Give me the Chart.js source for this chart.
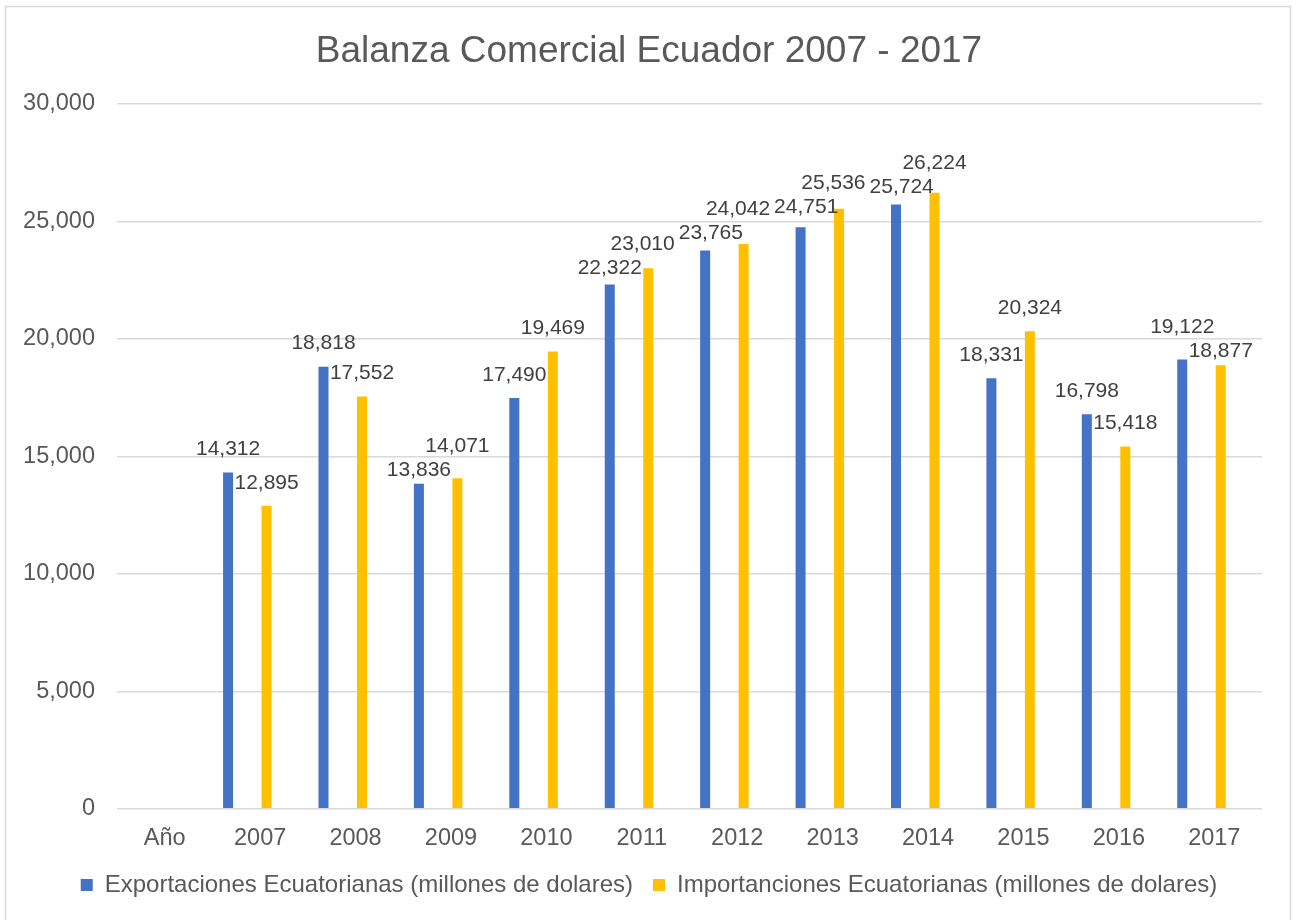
<!DOCTYPE html>
<html>
<head>
<meta charset="utf-8">
<script src="https://cdn.jsdelivr.net/npm/chart.js@4.4.1/dist/chart.umd.min.js"></script>
<style>
  body { margin: 0; background: #fff; }
  #caja { width: 1298px; height: 920px; }
</style>
</head>
<body>
<div id="caja"><canvas id="grafico"></canvas></div>
<script>
const categorias = ['Año', '2007', '2008', '2009', '2010', '2011', '2012', '2013', '2014', '2015', '2016', '2017'];
const exportaciones = [null, 14312, 18818, 13836, 17490, 22322, 23765, 24751, 25724, 18331, 16798, 19122];
const importaciones = [null, 12895, 17552, 14071, 19469, 23010, 24042, 25536, 26224, 20324, 15418, 18877];
const ticksY = [0, 5000, 10000, 15000, 20000, 25000, 30000];

const fuente = '"Liberation Sans", Arial, sans-serif';
const gris = '#595959';

// el recuadro gris alrededor del grafico
const marco = {
  id: 'marco',
  beforeDraw(chart) {
    const ctx = chart.ctx;
    ctx.save();
    ctx.strokeStyle = '#d9d9d9';
    ctx.lineWidth = 1.5;
    ctx.strokeRect(5.5, 6.5, 1285, 930);
    ctx.restore();
  }
};

// en el original las barras no van centradas en la categoria
const desplazar = {
  id: 'desplazar',
  afterDatasetsUpdate(chart, args, opts) {
    chart.data.datasets.forEach((ds, i) => {
      chart.getDatasetMeta(i).data.forEach(bar => { bar.x += opts.px; });
    });
  }
};

// etiquetas de valor, separadas cuando se pisan
const etiquetas = {
  id: 'etiquetas',
  afterDatasetsDraw(chart) {
    const ctx = chart.ctx;
    ctx.save();
    ctx.font = '21px ' + fuente;
    const cajas = [];
    chart.data.datasets.forEach((ds, i) => {
      chart.getDatasetMeta(i).data.forEach((bar, j) => {
        const v = ds.data[j];
        if (v == null) return;
        const texto = v.toLocaleString('en-US');
        const w = ctx.measureText(texto).width + 4;
        cajas.push({ texto, x: bar.x, y: bar.y - 23, w, h: 24, tope: bar.y });
      });
    });
    for (let k = 0; k < 60; k++) {
      for (let a = 0; a < cajas.length; a++) {
        for (let b = a + 1; b < cajas.length; b++) {
          const A = cajas[a], B = cajas[b];
          const ox = (A.w + B.w) / 2 - Math.abs(A.x - B.x);
          const oy = (A.h + B.h) / 2 - Math.abs(A.y - B.y);
          if (ox <= 0 || oy <= 0) continue;
          if (oy < ox) {
            const d = oy / 2;
            if (A.y < B.y) { A.y -= d; B.y += d; } else { A.y += d; B.y -= d; }
          } else {
            const d = ox / 2;
            if (A.x < B.x) { A.x -= d; B.x += d; } else { A.x += d; B.x -= d; }
          }
        }
      }
      cajas.forEach(c => {
        if (c.y + c.h / 2 > c.tope - 1) c.y = c.tope - 1 - c.h / 2;
      });
    }
    ctx.fillStyle = '#404040';
    ctx.textAlign = 'center';
    ctx.textBaseline = 'middle';
    cajas.forEach(c => ctx.fillText(c.texto, c.x, c.y));
    ctx.restore();
  }
};

new Chart(document.getElementById('grafico'), {
  type: 'bar',
  data: {
    labels: categorias,
    datasets: [
      {
        label: 'Exportaciones Ecuatorianas (millones de dolares)',
        data: exportaciones,
        backgroundColor: '#4472C4',
        barPercentage: 0.26,
        categoryPercentage: 0.807
      },
      {
        label: 'Importanciones Ecuatorianas (millones de dolares)',
        data: importaciones,
        backgroundColor: '#FFC000',
        barPercentage: 0.26,
        categoryPercentage: 0.807
      }
    ]
  },
  options: {
    responsive: true,
    maintainAspectRatio: false,
    animation: false,
    layout: { padding: { left: 0, right: 0, top: 0, bottom: 13 } },
    scales: {
      x: {
        afterFit(scale) { scale.height -= 16; },
        grid: { display: false, drawTicks: false },
        border: { display: false },
        ticks: { color: gris, font: { family: fuente, size: 23.5 }, padding: 16 }
      },
      y: {
        min: 0,
        max: 30000,
        afterFit(scale) { scale.width = 117; },
        afterBuildTicks(scale) { scale.ticks = ticksY.map(v => ({ value: v })); },
        grid: { color: '#d9d9d9', lineWidth: 1.5, drawTicks: false },
        border: { display: false },
        ticks: {
          color: gris,
          padding: 22,
          font: { family: fuente, size: 23.5 },
          callback: v => v.toLocaleString('en-US')
        }
      },
      // margen derecho, sin nada dibujado
      derecha: {
        position: 'right',
        afterFit(scale) { scale.width = 36; },
        grid: { display: false, drawTicks: false },
        border: { display: false },
        ticks: { display: false }
      }
    },
    plugins: {
      desplazar: { px: -12.8 },
      title: {
        display: true,
        text: 'Balanza Comercial Ecuador 2007 - 2017',
        color: gris,
        font: { family: fuente, size: 37, weight: 'normal', lineHeight: 1.2 },
        padding: { top: 30, bottom: 29.6 }
      },
      legend: {
        position: 'bottom',
        labels: {
          color: gris,
          font: { family: fuente, size: 24 },
          boxWidth: 12,
          boxHeight: 12,
          padding: 20
        }
      },
      tooltip: { enabled: false }
    }
  },
  plugins: [marco, desplazar, etiquetas]
});
</script>
</body>
</html>
